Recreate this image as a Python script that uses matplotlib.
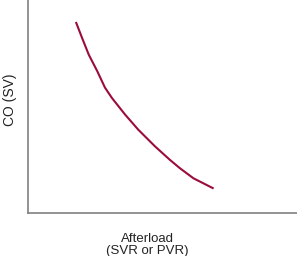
from matplotlib import pyplot as plt

# curve (arbitrary units, 0-100 on both axes)
afterload = [17.8, 20.1, 22.6, 25.7, 28.6, 31.2, 36.1, 41.0, 47.2,
             52.8, 56.5, 61.5, 69.0]
cardiac_output = [89.7, 82.2, 74.3, 66.7, 58.9, 54.0, 46.2, 39.1, 31.3,
                  24.9, 21.0, 16.3, 11.5]

x_label = "Afterload\n(SVR or PVR)"
y_label = "CO (SV)"


def plot_graph():
    fig = plt.figure(figsize=(2.97, 2.56), dpi=100)
    ax = fig.add_axes([28 / 297, 43 / 256, 1 - 28 / 297, 213 / 256])
    ax.plot(afterload, cardiac_output, color="#9b0b3d", linewidth=1.5,
            solid_capstyle="butt", solid_joinstyle="round")
    ax.set_xlim(0, 100)
    ax.set_ylim(0, 100)
    ax.set_xticks([])
    ax.set_yticks([])
    for side in ("top", "right"):
        ax.spines[side].set_visible(False)
    for side in ("left", "bottom"):
        ax.spines[side].set_color("#808080")
        ax.spines[side].set_linewidth(1.2)

    fig.text(147 / 297, 1 - 245 / 256, x_label, ha="center", va="center",
             fontsize=9.5, family="Liberation Sans", color="#222222",
             linespacing=0.9)
    fig.text(10 / 297, 1 - 100 / 256, y_label, ha="center", va="center",
             rotation=90, fontsize=10, family="Liberation Sans",
             color="#222222")
    fig.savefig("out.png", dpi=100)


plot_graph()
